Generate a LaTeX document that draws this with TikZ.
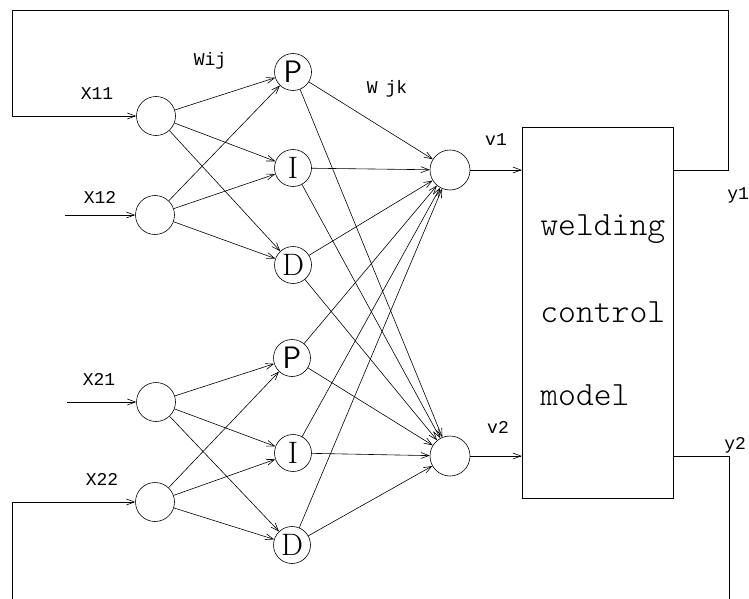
\documentclass[tikz,border=0pt]{standalone}
\usepackage{fontspec}
\newfontfamily\labelfont{Liberation Mono}
\newfontfamily\plantfont{Latin Modern Mono Light}
\usetikzlibrary{arrows.meta}

\tikzset{
  neuron/.style={draw, circle, inner sep=0pt, minimum size=39pt},
  pid/.style={draw, circle, inner sep=0pt, minimum size=37pt,
    font=\fontsize{31}{31}\selectfont},
  lbl/.style={font=\labelfont\fontsize{18}{18}\selectfont},
  boxtext/.style={anchor=base west, inner sep=0pt,
    font=\plantfont\fontsize{34}{34}\selectfont},
}

\begin{document}
\begin{tikzpicture}[x=1pt, y=-1pt, >={Straight Barb[length=8pt,width=6pt]},
    line width=0.6pt]
  \useasboundingbox (0,0) rectangle (749,599);

  % input layer
  \node[neuron] (x11) at (156,116) {};
  \node[neuron] (x12) at (155,215) {};
  \node[neuron] (x21) at (156,402) {};
  \node[neuron] (x22) at (155,502) {};
  \node[lbl] at (97,94)  {X11};
  \node[lbl] at (100,197) {X12};
  \node[lbl] at (99,379) {X21};
  \node[lbl] at (102,479) {X22};

  % PID layer
  \node[pid] (p1) at (293,72)  {\sffamily P};
  \node[pid] (i1) at (293,168) {I};
  \node[pid] (d1) at (293,265) {D};
  \node[pid] (p2) at (292,358) {\sffamily P};
  \node[pid] (i2) at (293,453) {I};
  \node[pid] (d2) at (292,545) {D};
  \node[lbl] at (210,61) {Wij};
  \node[lbl] at (387,89) {W\kern8pt jk};

  % output layer
  \node[neuron, minimum size=40pt] (v1) at (450,170) {};
  \node[neuron, minimum size=40pt] (v2) at (450,456) {};
  \node[lbl] at (496,140) {v1};
  \node[lbl] at (498,427) {v2};

  % weights
  \foreach \s in {x11,x12}
    \foreach \t in {p1,i1,d1}
      \draw[->] (\s) -- (\t);
  \foreach \s in {x21,x22}
    \foreach \t in {p2,i2,d2}
      \draw[->] (\s) -- (\t);
  \foreach \s in {p1,i1,d1,p2,i2,d2}
    \foreach \t in {v1,v2}
      \draw[->] (\s) -- (\t);

  % plant
  \node[draw, inner sep=0pt, minimum width=151pt, minimum height=371pt]
    (model) at (597.5,312.5) {};
  \node[boxtext] at (540,235) {welding};
  \node[boxtext] at (540,322) {control};
  \node[boxtext] at (540,405) {model};
  \draw[->] (v1) -- (model.west |- v1);
  \draw[->] (v2) -- (model.west |- v2);

  % inputs and feedback
  \coordinate (in12) at (65,215);
  \coordinate (in21) at (67,402);
  \draw[->] (in12) -- (x12);
  \draw[->] (in21) -- (x21);
  \coordinate (y1) at (728,170);
  \coordinate (y2) at (729,456);
  \draw[->] (model.east |- v1) -- (y1) |- (12,10) |- (x11.west);
  \draw (model.east |- v2) -- (y2) -- (729,599);
  \draw[->] (12,599) |- (x22.west);
  \node[lbl, anchor=west, inner sep=0pt] at (727,195) {y1};
  \node[lbl, anchor=west, inner sep=0pt] at (724,445) {y2};
\end{tikzpicture}
\end{document}
